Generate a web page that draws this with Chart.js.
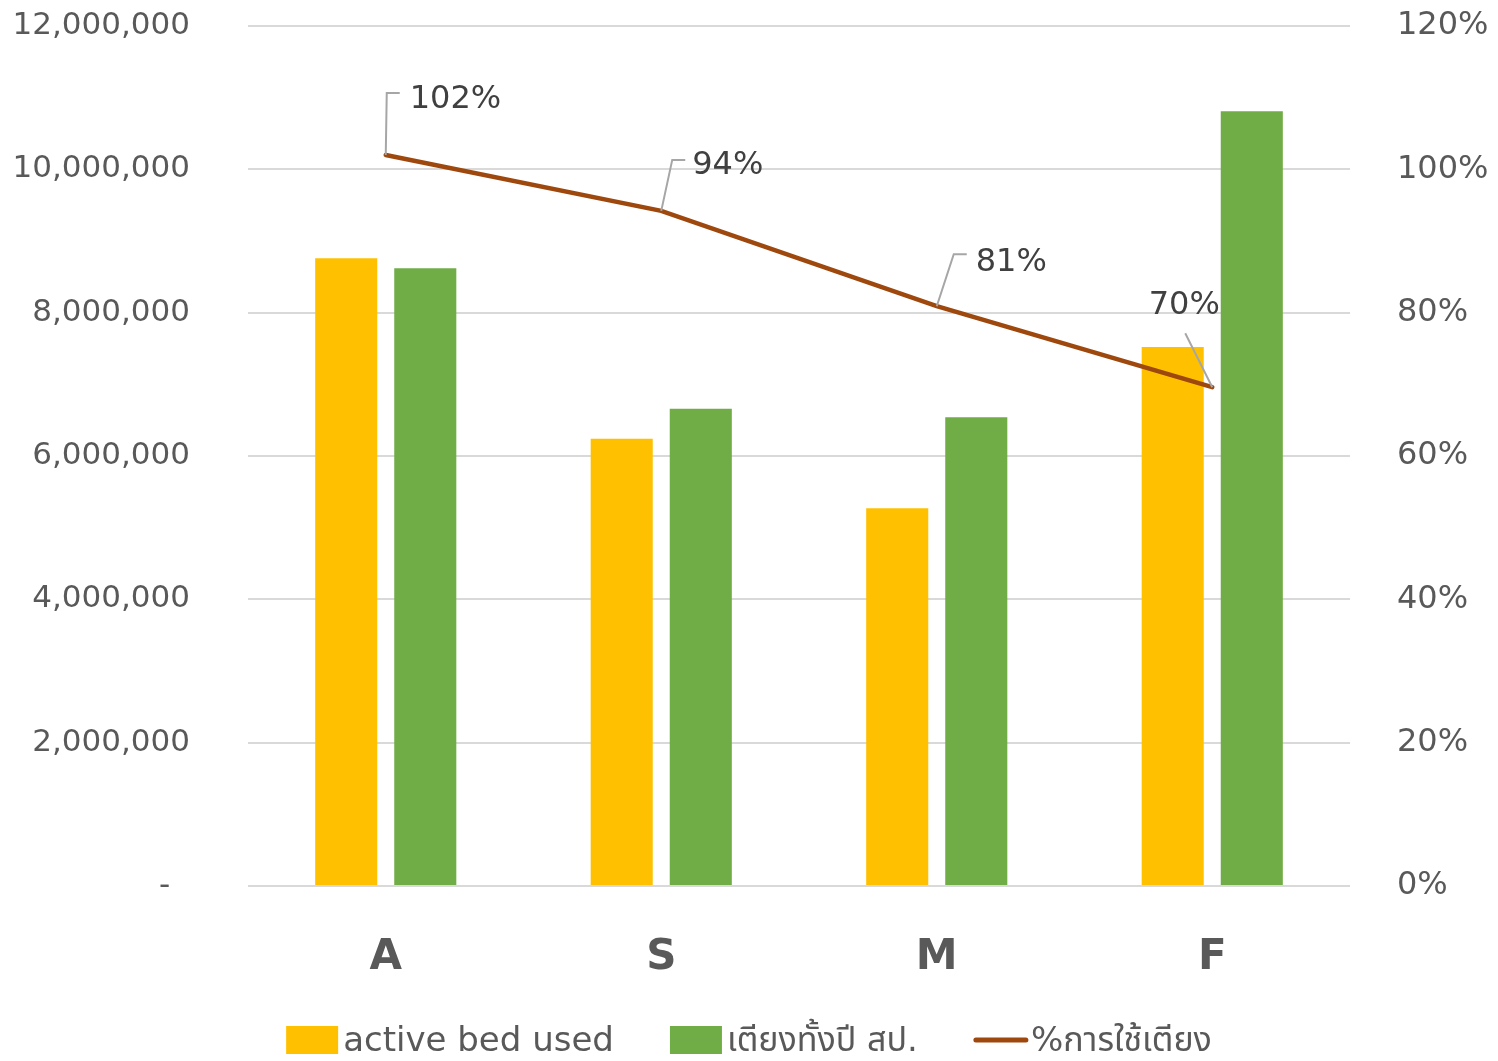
<!DOCTYPE html>
<html>
<head>
<meta charset="utf-8">
<script src="https://cdn.jsdelivr.net/npm/chart.js@4.4.1/dist/chart.umd.min.js"></script>
<style>
    html, body { margin: 0; padding: 0; background: #fff; }
    #wrap { width: 1498px; height: 1061px; position: relative; }
</style>
</head>
<body>
<div id="wrap"><canvas id="barChart"></canvas></div>
<script>
// data
var categories = ["A", "S", "M", "F"];
var activeBedUsed = [8760000, 6240000, 5270000, 7520000];
var bedsAllYear = [8620000, 6660000, 6540000, 10810000];
var bedUsePct = [1.02, 0.942, 0.809, 0.696];
var seriesNames = ["active bed used", "เตียงทั้งปี สป.", "%การใช้เตียง"];

var textColor = "#595959";
var fontFamily = "'DejaVu Sans', 'Noto Sans Thai', 'Noto Sans', sans-serif";

// leader lines for the % labels (offsets from the point)
var labelLayout = [
    { tx: 24, ty: -57, align: "left", path: [[0, 0], [1, -62], [14, -62]] },
    { tx: 31, ty: -47, align: "left", path: [[0, 0], [11, -51], [24, -51]] },
    { tx: 39, ty: -46, align: "left", path: [[0, 0], [17, -52], [30, -52]] },
    { tx: -28, ty: -84, align: "center", path: [[0, 0], [-27, -54]] }
];

var pctLabels = {
    id: "pctLabels",
    afterDatasetsDraw: function(chart) {
        var ctx = chart.ctx;
        var meta = chart.getDatasetMeta(2);
        ctx.save();
        meta.data.forEach(function(pt, i) {
            var lay = labelLayout[i];
            ctx.strokeStyle = "#A6A6A6";
            ctx.lineWidth = 2;
            ctx.beginPath();
            lay.path.forEach(function(p, k) {
                if (k === 0) ctx.moveTo(pt.x + p[0], pt.y + p[1]);
                else ctx.lineTo(pt.x + p[0], pt.y + p[1]);
            });
            ctx.stroke();
            ctx.fillStyle = "#404040";
            ctx.font = "32px " + fontFamily;
            ctx.textAlign = lay.align;
            ctx.textBaseline = "middle";
            ctx.fillText(Math.round(bedUsePct[i] * 100) + "%", pt.x + lay.tx, pt.y + lay.ty + 2);
        });
        ctx.restore();
    }
};

var bottomLegend = {
    id: "bottomLegend",
    afterDraw: function(chart) {
        var ctx = chart.ctx;
        var colors = ["#FFC000", "#70AD47", "#9E480E"];
        var boxW = 52, gap = 5, spacing = 56, cy = 1040;
        ctx.save();
        ctx.font = "34px " + fontFamily;
        var widths = seriesNames.map(function(n) { return ctx.measureText(n).width; });
        var total = 0;
        widths.forEach(function(w) { total += boxW + gap + w; });
        total += spacing * (seriesNames.length - 1);
        var x = (chart.width - total) / 2;
        for (var i = 0; i < seriesNames.length; i++) {
            if (i < 2) {
                ctx.fillStyle = colors[i];
                ctx.fillRect(x, cy - 14, boxW, 28);
            } else {
                ctx.strokeStyle = colors[i];
                ctx.lineWidth = 5;
                ctx.lineCap = "round";
                ctx.beginPath();
                ctx.moveTo(x + 2, cy);
                ctx.lineTo(x + boxW, cy);
                ctx.stroke();
            }
            ctx.fillStyle = textColor;
            ctx.textAlign = "left";
            ctx.textBaseline = "middle";
            ctx.fillText(seriesNames[i], x + boxW + gap, cy + 2);
            x += boxW + gap + widths[i] + spacing;
        }
        ctx.restore();
    }
};

function noPad(s) {
    s.paddingTop = 0;
    s.paddingBottom = 0;
}

var ctx = document.getElementById("barChart").getContext("2d");
var chart = new Chart(ctx, {
    type: "bar",
    data: {
        labels: categories,
        datasets: [
            {
                label: seriesNames[0],
                data: activeBedUsed,
                backgroundColor: "#FFC000",
                yAxisID: "y",
                order: 1,
                categoryPercentage: 0.574,
                barPercentage: 0.785
            },
            {
                label: seriesNames[1],
                data: bedsAllYear,
                backgroundColor: "#70AD47",
                yAxisID: "y",
                order: 1,
                categoryPercentage: 0.574,
                barPercentage: 0.785
            },
            {
                type: "line",
                label: seriesNames[2],
                data: bedUsePct,
                borderColor: "#9E480E",
                borderWidth: 4.5,
                borderCapStyle: "round",
                pointRadius: 0,
                tension: 0,
                fill: false,
                yAxisID: "y1",
                order: 0
            }
        ]
    },
    options: {
        responsive: true,
        maintainAspectRatio: false,
        animation: false,
        layout: { padding: { top: 26, bottom: 65, left: 0, right: 0 } },
        plugins: {
            legend: { display: false },
            tooltip: { enabled: false }
        },
        scales: {
            x: {
                grid: { display: false },
                border: { display: false },
                ticks: {
                    color: textColor,
                    font: { family: fontFamily, size: 42, weight: "bold" },
                    padding: 39
                },
                afterFit: function(s) { s.height = 110; }
            },
            y: {
                position: "left",
                min: 0,
                max: 12000000,
                grid: { color: "#D9D9D9", lineWidth: 2, drawTicks: false },
                border: { display: false },
                ticks: {
                    stepSize: 2000000,
                    color: textColor,
                    padding: 58,
                    font: { family: fontFamily, size: 31 },
                    callback: function(v) {
                        return v === 0 ? "-  " : v.toLocaleString("en-US");
                    }
                },
                afterFit: function(s) { s.width = 248; noPad(s); }
            },
            y1: {
                position: "right",
                min: 0,
                max: 1.2,
                grid: { display: false, drawTicks: false },
                border: { display: false },
                ticks: {
                    stepSize: 0.2,
                    color: textColor,
                    padding: 47,
                    font: { family: fontFamily, size: 32 },
                    callback: function(v) { return Math.round(v * 100) + "%"; }
                },
                afterFit: function(s) { s.width = 148; noPad(s); }
            }
        }
    },
    plugins: [pctLabels, bottomLegend]
});
</script>
</body>
</html>
